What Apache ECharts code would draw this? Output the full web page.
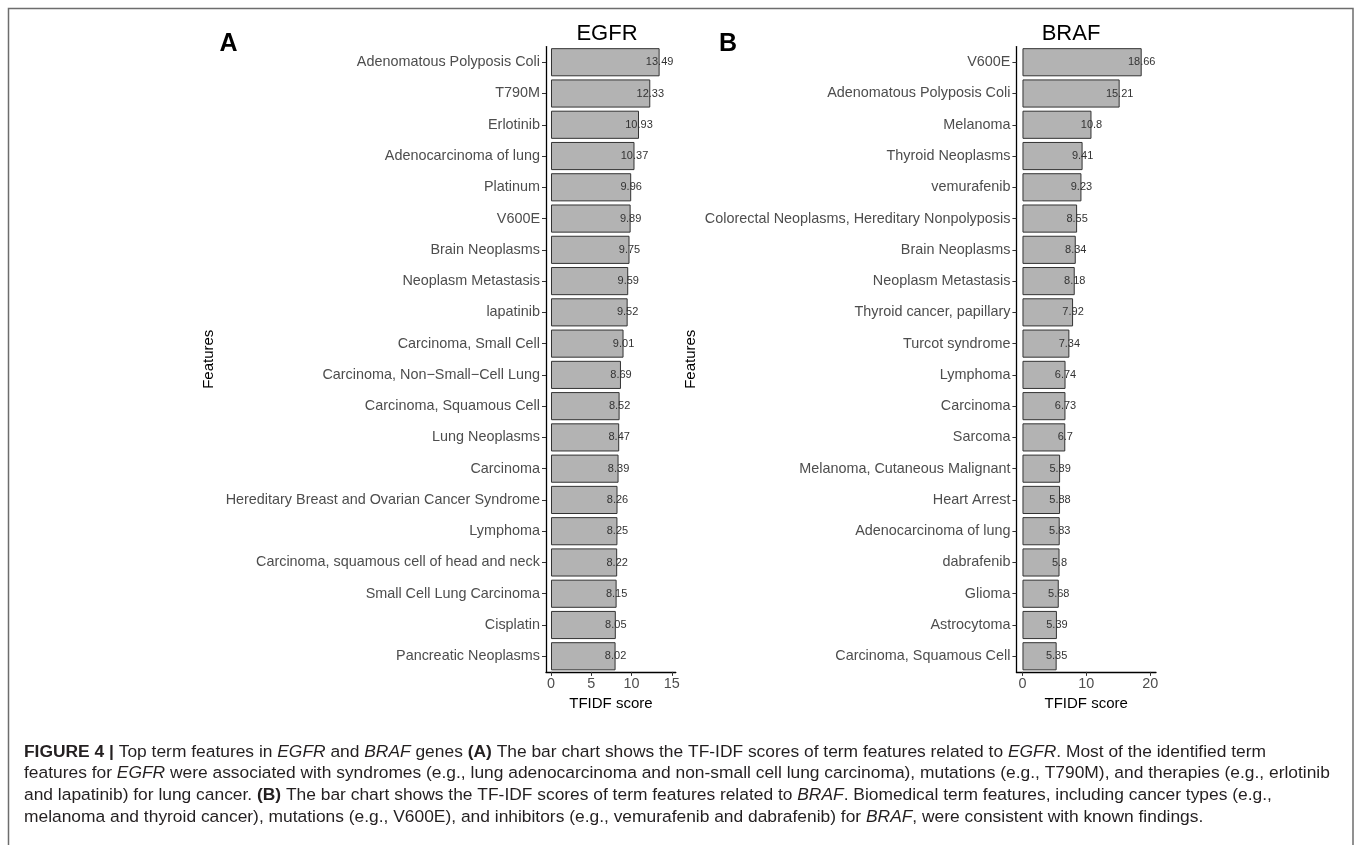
<!DOCTYPE html>
<html>
<head>
<meta charset="utf-8">
<script src="https://cdn.jsdelivr.net/npm/echarts@6/dist/echarts.min.js"></script>
<style>
html,body{margin:0;padding:0;background:#fff;}
#chart{width:1354px;height:845px;}
</style>
</head>
<body>
<div id="chart"></div>
<script>
const egfrCategories = [
  'Adenomatous Polyposis Coli','T790M','Erlotinib','Adenocarcinoma of lung','Platinum',
  'V600E','Brain Neoplasms','Neoplasm Metastasis','lapatinib','Carcinoma, Small Cell',
  'Carcinoma, Non\u2212Small\u2212Cell Lung','Carcinoma, Squamous Cell','Lung Neoplasms','Carcinoma',
  'Hereditary Breast and Ovarian Cancer Syndrome','Lymphoma','Carcinoma, squamous cell of head and neck',
  'Small Cell Lung Carcinoma','Cisplatin','Pancreatic Neoplasms'
];
const egfrValues = [13.49,12.33,10.93,10.37,9.96,9.89,9.75,9.59,9.52,9.01,8.69,8.52,8.47,8.39,8.26,8.25,8.22,8.15,8.05,8.02];

const brafCategories = [
  'V600E','Adenomatous Polyposis Coli','Melanoma','Thyroid Neoplasms','vemurafenib',
  'Colorectal Neoplasms, Hereditary Nonpolyposis','Brain Neoplasms','Neoplasm Metastasis',
  'Thyroid cancer, papillary','Turcot syndrome','Lymphoma','Carcinoma','Sarcoma',
  'Melanoma, Cutaneous Malignant','Heart Arrest','Adenocarcinoma of lung','dabrafenib',
  'Glioma','Astrocytoma','Carcinoma, Squamous Cell'
];
const brafValues = [18.66,15.21,10.8,9.41,9.23,8.55,8.34,8.18,7.92,7.34,6.74,6.73,6.7,5.89,5.88,5.83,5.8,5.68,5.39,5.35];

const egfrTicks = [0,5,10,15];
const brafTicks = [0,10,20];

const panelTitles = ['EGFR','BRAF'];
const panelLetters = ['A','B'];
const xTitle = 'TFIDF score';
const yTitle = 'Features';

const captionLines = [
  '{b|FIGURE 4 |} Top term features in {i|EGFR} and {i|BRAF} genes {b|(A)} The bar chart shows the TF-IDF scores of term features related to {i|EGFR}. Most of the identified term',
  'features for {i|EGFR} were associated with syndromes (e.g., lung adenocarcinoma and non-small cell lung carcinoma), mutations (e.g., T790M), and therapies (e.g., erlotinib',
  'and lapatinib) for lung cancer. {b|(B)} The bar chart shows the TF-IDF scores of term features related to {i|BRAF}. Biomedical term features, including cancer types (e.g.,',
  'melanoma and thyroid cancer), mutations (e.g., V600E), and inhibitors (e.g., vemurafenib and dabrafenib) for {i|BRAF}, were consistent with known findings.'
];

const FF = "'Liberation Sans', Arial, Helvetica, sans-serif";
const CAP = 17.4;

function xAxisCfg(idx, min, max, ticks) {
  return {
    gridIndex: idx, type: 'value', min: min, max: max,
    splitLine: {show: false},
    axisLine: {show: true, onZero: false, lineStyle: {color: '#000', width: 1.3}},
    axisTick: {show: true, length: 4, customValues: ticks, lineStyle: {color: '#333', width: 1}},
    axisLabel: {show: true, customValues: ticks, fontSize: 14.4, color: '#4d4d4d', margin: 5, fontFamily: FF},
    name: xTitle, nameLocation: 'middle', nameGap: 24,
    nameTextStyle: {fontSize: 15, color: '#000', fontFamily: FF}
  };
}
function yAxisCfg(idx, cats, gap) {
  return {
    gridIndex: idx, type: 'category', data: cats, inverse: true,
    axisLine: {show: true, onZero: false, lineStyle: {color: '#000', width: 1.3}},
    axisTick: {show: true, length: 4, alignWithLabel: true, lineStyle: {color: '#333', width: 1}},
    axisLabel: {fontSize: 14.4, color: '#4d4d4d', margin: 6, fontFamily: FF},
    splitLine: {show: false},
    name: yTitle, nameLocation: 'middle', nameRotate: 90, nameGap: gap,
    nameTextStyle: {fontSize: 15, color: '#000', fontFamily: FF}
  };
}
function barSeries(idx, vals) {
  return {
    type: 'bar', xAxisIndex: idx, yAxisIndex: idx, data: vals,
    barCategoryGap: '10%',
    itemStyle: {color: '#b3b3b3', borderColor: '#333', borderWidth: 1},
    label: {show: true, position: ['100%', '50%'], align: 'center', verticalAlign: 'middle',
            fontSize: 11, color: '#333', fontFamily: FF},
    silent: true, animation: false
  };
}

const captionGraphics = captionLines.map((t, i) => ({
  type: 'text', x: 24, y: 752 + i * 21.6,
  style: {
    text: t, fontSize: CAP, fontFamily: FF, fill: '#231f20', verticalAlign: 'middle', align: 'left',
    rich: {
      b: {fontWeight: 'bold', fontSize: CAP, fontFamily: FF, fill: '#231f20'},
      i: {fontStyle: 'italic', fontSize: CAP, fontFamily: FF, fill: '#231f20'}
    }
  }
}));

const chart = echarts.init(document.getElementById('chart'), null, {renderer: 'canvas'});
chart.setOption({
  animation: false,
  backgroundColor: '#fff',
  grid: [
    {left: 546, top: 46.6, width: 129.8, height: 625.3, outerBoundsMode: 'none'},
    {left: 1016.4, top: 46.6, width: 139.6, height: 625.3, outerBoundsMode: 'none'}
  ],
  xAxis: [xAxisCfg(0, -0.62, 15.5, egfrTicks), xAxisCfg(1, -0.95, 20.9, brafTicks)],
  yAxis: [yAxisCfg(0, egfrCategories, 330), yAxisCfg(1, brafCategories, 318)],
  series: [barSeries(0, egfrValues), barSeries(1, brafValues)],
  graphic: [
    {type: 'rect', shape: {x: 8.5, y: 8.5, width: 1344.5, height: 900},
     style: {fill: 'none', stroke: '#6d6d6d', lineWidth: 1.5}, silent: true},
    {type: 'text', x: 607, y: 34, style: {text: panelTitles[0], fontSize: 22, fontFamily: FF, fill: '#000', align: 'center', verticalAlign: 'middle'}},
    {type: 'text', x: 1071, y: 34, style: {text: panelTitles[1], fontSize: 22, fontFamily: FF, fill: '#000', align: 'center', verticalAlign: 'middle'}},
    {type: 'text', x: 228.6, y: 44, style: {text: panelLetters[0], fontSize: 25, fontWeight: 'bold', fontFamily: FF, fill: '#000', align: 'center', verticalAlign: 'middle'}},
    {type: 'text', x: 728, y: 44, style: {text: panelLetters[1], fontSize: 25, fontWeight: 'bold', fontFamily: FF, fill: '#000', align: 'center', verticalAlign: 'middle'}}
  ].concat(captionGraphics)
});
</script>
</body>
</html>
